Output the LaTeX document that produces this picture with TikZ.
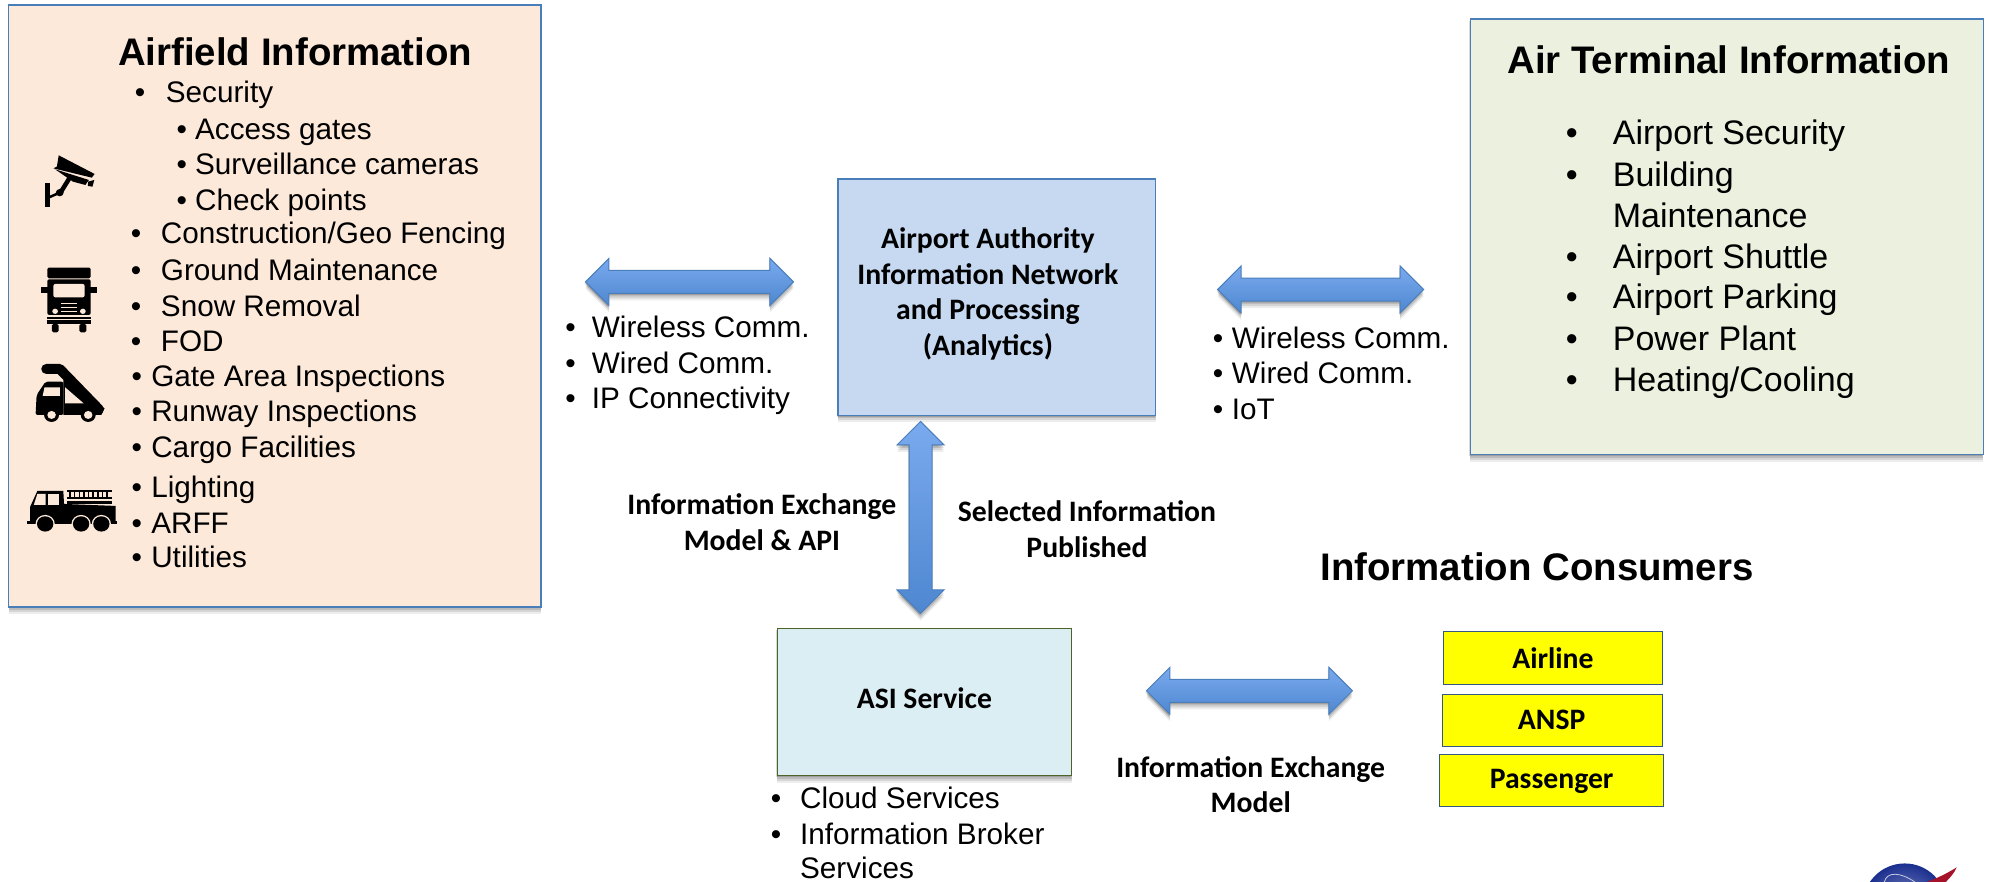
\documentclass[tikz,border=0pt]{standalone}
\usepackage{fontspec}
\setmainfont{Liberation Sans}
\newfontfamily\calf{Carlito}
\usetikzlibrary{shapes.arrows,shadows,fit}
\definecolor{peach}{HTML}{FDE9D9}
\definecolor{sage}{HTML}{EBF1DE}
\definecolor{sky}{HTML}{C6D9F1}
\definecolor{aqua}{HTML}{DBEEF4}
\definecolor{edgeblue}{HTML}{4A7EBB}
\definecolor{arrowtop}{HTML}{7AAAEE}
\definecolor{arrowmid}{HTML}{8FBBF5}
\definecolor{arrowbot}{HTML}{4E87D0}
\definecolor{edgegreen}{HTML}{4F6228}
\definecolor{nasablue}{HTML}{1B2F8F}
\definecolor{nasared}{HTML}{A5122A}
\definecolor{pureyellow}{HTML}{FFFF00}
\tikzset{
  softshadow/.style={
    drop shadow={shadow xshift=0pt,shadow yshift=-7pt,opacity=.07,fill=black},
    drop shadow={shadow xshift=0pt,shadow yshift=-5pt,opacity=.10,fill=black},
    drop shadow={shadow xshift=0pt,shadow yshift=-3pt,opacity=.12,fill=black},
    drop shadow={shadow xshift=-1pt,shadow yshift=-1.5pt,opacity=.15,fill=black}},
  panel/.style={draw=edgeblue,line width=1.2pt,inner sep=0pt,softshadow},
  txt/.style={inner sep=0pt,anchor=mid west,yshift=-7.6pt,font=\fontsize{29.7pt}{34pt}\selectfont,text=black},
  bigtxt/.style={txt,yshift=-2.6pt,font=\fontsize{34pt}{38pt}\selectfont},
  head/.style={inner sep=0pt,font=\fontsize{38.4pt}{42pt}\selectfont\bfseries,text=black},
  lbl/.style={inner sep=0pt,align=center,font=\calf\fontsize{29.7pt}{35.8pt}\selectfont\bfseries,text=black},
  ylw/.style={draw=edgeblue!70!black,fill=pureyellow,line width=1pt,inner sep=0pt},
  dbl/.style={double arrow,double arrow head extend=12pt,inner xsep=0pt,inner ysep=11pt,
    minimum width=44pt,draw=edgeblue,line width=1pt,top color=arrowtop,middle color=arrowmid,bottom color=arrowbot,
    softshadow},
  ink/.style={fill=black,draw=none},
  hole/.style={fill=peach,draw=none},
}
\newcommand\li[5]{\node[liststyle] (#1b) at (#2,#4) {•};\node[liststyle] (#1) at (#3,#4) {#5};}
\begin{document}
\begin{tikzpicture}[x=1.2698pt,y=-1.2698pt]
\useasboundingbox (0,0) rectangle (1568,694.6);
% panels
\node[panel,fill=peach,fit={(7,4)(426,478)}] (airfield) {};
\node[panel,fill=sage,fit={(1158,15)(1562,358)}] (terminal) {};
\node[panel,fill=sky,fit={(660,141)(910,327)}] (authority) {};
\node[panel,draw=edgegreen,fill=aqua,fit={(612,495)(844,611)}] (asi) {};
\node[lbl] (authorityT) at (778,231.5) {Airport Authority\\Information Network\\and Processing\\(Analytics)};
\node[lbl] (asiT) at (728,550) {ASI Service};
% titles
\node[head] (airfieldT) at (232.5,41) {Airfield Information};
\node[head] (terminalT) at (1361.5,47) {Air Terminal Information};
\node[head] (consumersT) at (1210.5,446.5) {Information Consumers};
% airfield list
\begin{scope}[liststyle/.style={txt}]
\li{a1}{106}{130.5}{73}{Security}
\li{a2}{139}{153.5}{102}{Access gates}
\li{a3}{139}{153.5}{129}{Surveillance cameras}
\li{a4}{139}{153.5}{158}{Check points}
\li{a5}{103}{126.6}{184}{Construction/Geo Fencing}
\li{a6}{103}{126.6}{213}{Ground Maintenance}
\li{a7}{103}{126.6}{241}{Snow Removal}
\li{a8}{103}{126.6}{269}{FOD}
\li{a9}{103.5}{119}{296}{Gate Area Inspections}
\li{a10}{103.5}{119}{324}{Runway Inspections}
\li{a11}{103.5}{119}{352}{Cargo Facilities}
\li{a12}{103.5}{119}{384}{Lighting}
\li{a13}{103.5}{119}{412}{ARFF}
\li{a14}{103.5}{119}{439}{Utilities}
% link lists
\li{l1}{445}{466}{258}{Wireless Comm.}
\li{l2}{445}{466}{286}{Wired Comm.}
\li{l3}{445}{466}{314}{IP Connectivity}
\li{r1}{955}{970}{266}{Wireless Comm.}
\li{r2}{955}{970}{294}{Wired Comm.}
\li{r3}{955}{970}{322}{IoT}
\li{c1}{607}{630}{629}{Cloud Services}
\li{c2}{607}{630}{657}{Information Broker}
\node[liststyle] (c3) at (630,684) {Services};
\end{scope}
% terminal list
\begin{scope}[liststyle/.style={bigtxt}]
\li{t1}{1233}{1270}{104}{Airport Security}
\li{t2}{1233}{1270}{137}{Building}
\node[liststyle] (t2b2) at (1270,169) {Maintenance};
\li{t3}{1233}{1270}{201}{Airport Shuttle}
\li{t4}{1233}{1270}{233}{Airport Parking}
\li{t5}{1233}{1270}{266}{Power Plant}
\li{t6}{1233}{1270}{298}{Heating/Cooling}
\end{scope}
% labels
\node[lbl] (iem) at (600,411) {Information Exchange\\Model \& API};
\node[lbl] (sip) at (856,417) {Selected Information\\Published};
\node[lbl] (iex) at (985,618) {Information Exchange\\Model};
% yellow boxes
\node[ylw,fit={(1137,497)(1309,539)}] (airline) {};
\node[ylw,fit={(1136,547)(1309,588)}] (ansp) {};
\node[ylw,fit={(1134,594)(1310,635)}] (passenger) {};
\node[lbl] (airlineT) at (1223,518) {Airline};
\node[lbl] (anspT) at (1222,567) {ANSP};
\node[lbl] (passengerT) at (1222,615.5) {Passenger};
% arrows
\node[dbl,minimum height=208pt] (ar1) at (543,222) {};
\node[dbl,minimum height=206pt] (ar2) at (1040,228) {};
\node[dbl,minimum height=206pt] (ar3) at (984,544) {};
\node[dbl,minimum height=192pt,rotate=90] (ar4) at (725,407.5) {};
% camera icon
\begin{scope}[x=.3557pt,y=-.3333pt]
\fill[ink] (165,466) -- (266,522) -- (258,533) -- (150,505) -- (160,500) -- cycle;
\fill[ink] (155,508) -- (250,540) -- (240,555) -- (205,545) -- cycle;
\fill[ink] (248,545) -- (265,540) -- (260,560) -- (247,558) -- cycle;
\draw[line width=4.5pt,black] (195,535) -- (170,578);
\fill[ink] (127,550) rectangle (140,620);
\draw[line width=2.5pt,black] (138,592) -- (168,578);
\fill[ink] (168,578) circle (11);
% truck icon
\fill[ink,rounded corners=1.5pt] (133,803) rectangle (255,835);
\fill[ink,rounded corners=2pt] (133,838) rectangle (255,945);
\fill[ink] (115,860) rectangle (135,878);
\fill[ink] (253,860) rectangle (273,878);
\fill[hole,rounded corners=2pt] (150,852) rectangle (238,892);
\fill[hole] (172,908) rectangle (216,913);
\fill[hole] (172,920) rectangle (216,925);
\fill[hole] (172,932) rectangle (216,937);
\fill[hole] (155,934) circle (8);
\fill[hole] (233,934) circle (8);
\fill[ink] (133,951) rectangle (255,957);
\fill[ink] (133,961) rectangle (255,972);
\fill[ink,rounded corners=1.5pt] (146,972) rectangle (165,997);
\fill[ink,rounded corners=1.5pt] (223,972) rectangle (243,997);
\end{scope}
\begin{scope}[x=.3557pt,y=-.3333pt,shift={(0,900)}]
% stairs icon
\draw[line width=10pt,line cap=round,line join=round,black] (130,207) -- (168,207) -- (278,328);
\fill[ink,rounded corners=2pt] (100,345) -- (103,285) -- (128,245) -- (178,245) -- (178,345) -- cycle;
\fill[ink] (178,240) -- (294,325) -- (285,345) -- (178,345) -- cycle;
\fill[hole] (125,262) -- (168,262) -- (168,288) -- (120,288) -- cycle;
\fill[hole] (183,262) -- (183,310) -- (235,310) -- cycle;
\foreach \wx in {145,248}{
  \fill[ink] (\wx,345) circle (21);
  \fill[hole] (\wx,345) circle (12);
}
% fire engine icon
\fill[ink] (85,668) -- (85,620) -- (105,573) -- (178,573) -- (180,612) -- (325,618) -- (325,668) -- cycle;
\fill[hole] (105,582) -- (128,582) -- (128,615) -- (95,615) -- cycle;
\fill[hole] (135,582) rectangle (167,615);
\fill[ink] (187,570) rectangle (315,577);
\fill[ink] (187,590) rectangle (315,598);
\fill[ink] (187,604) rectangle (315,612);
\foreach \rx in {195,208,...,310}{\fill[ink] (\rx,570) rectangle +(4,24);}
\fill[ink] (77,664) rectangle (328,673);
\foreach \wx in {127,228,285}{
  \fill[hole] (\wx,672) circle (27);
  \fill[ink] (\wx,672) circle (23);
}
\end{scope}
% NASA logo (cut off by the page edge)
\begin{scope}
\clip (1440,670) rectangle (1568,694.6);
\shade[inner color=nasablue!55!white,outer color=nasablue] (1500,713) circle (33);
\draw[white!75!nasablue,line width=.8pt] (1484,694.6) .. controls (1486,686) and (1497,687) .. (1508,694.6);
\fill[nasared] (1541,683) .. controls (1530,690) and (1520,694) .. (1510,697) -- (1530,697) .. controls (1535,692) and (1539,688) .. cycle;
\end{scope}
\end{tikzpicture}
\end{document}
